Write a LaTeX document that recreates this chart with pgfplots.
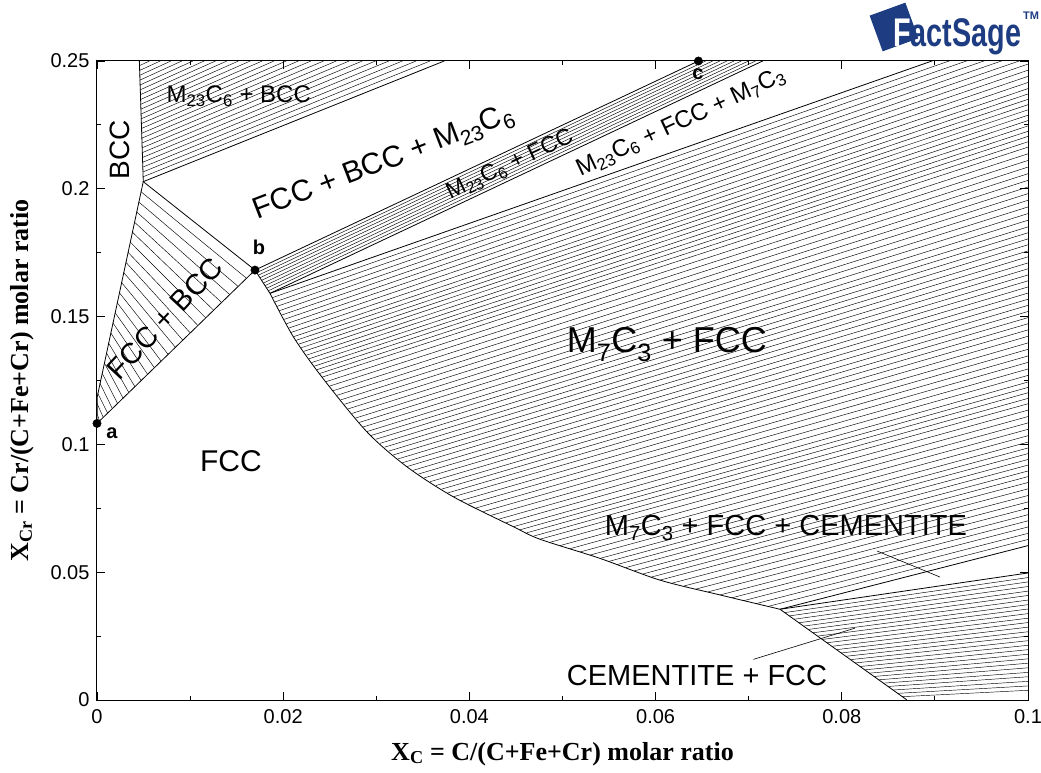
\documentclass[border=0pt]{standalone}
\usepackage{fontspec}
\setmainfont{Liberation Sans}
\newfontfamily\serifbf{Liberation Serif}
\usepackage{graphicx}
\usepackage{pgfplots}
\pgfplotsset{compat=1.18}
\usepackage{pgfplotstable}
\definecolor{fsblue}{RGB}{30,60,130}
\newcommand{\fs}[1]{\fontsize{#1}{#1}\selectfont}

% FCC + BCC tie lines
\pgfplotstableread{
x1 y1 x2 y2
0.00000 0.1121 0.00027 0.1092
0.00000 0.1161 0.00067 0.1106
0.00008 0.1200 0.00114 0.1122
0.00031 0.1240 0.00165 0.1140
0.00054 0.1279 0.00221 0.1160
0.00078 0.1319 0.00280 0.1181
0.00101 0.1358 0.00342 0.1203
0.00123 0.1397 0.00407 0.1226
0.00147 0.1437 0.00474 0.1250
0.00170 0.1476 0.00544 0.1274
0.00193 0.1516 0.00616 0.1300
0.00216 0.1555 0.00689 0.1326
0.00239 0.1594 0.00765 0.1352
0.00262 0.1634 0.00842 0.1380
0.00285 0.1673 0.00921 0.1408
0.00309 0.1713 0.01002 0.1436
0.00332 0.1752 0.01084 0.1465
0.00355 0.1792 0.01168 0.1495
0.00378 0.1831 0.01253 0.1525
0.00401 0.1870 0.01339 0.1555
0.00424 0.1910 0.01426 0.1586
0.00447 0.1949 0.01516 0.1618
0.00471 0.1989 0.01606 0.1650
}\tieA

% M23C6 + BCC tie lines
\pgfplotstableread{
x1 y1 x2 y2
0.00495 0.20469 0.03578 0.25
0.00493 0.20658 0.03428 0.25
0.00491 0.20846 0.03281 0.25
0.00489 0.21035 0.03135 0.25
0.00488 0.21224 0.02992 0.25
0.00486 0.21413 0.02850 0.25
0.00484 0.21602 0.02709 0.25
0.00482 0.21790 0.02571 0.25
0.00480 0.21979 0.02434 0.25
0.00478 0.22168 0.02298 0.25
0.00476 0.22357 0.02164 0.25
0.00474 0.22546 0.02032 0.25
0.00472 0.22734 0.01902 0.25
0.00471 0.22923 0.01774 0.25
0.00469 0.23112 0.01646 0.25
0.00467 0.23301 0.01520 0.25
0.00465 0.23490 0.01395 0.25
0.00463 0.23678 0.01273 0.25
0.00461 0.23867 0.01151 0.25
0.00459 0.24056 0.01030 0.25
0.00457 0.24245 0.00911 0.25
0.00455 0.24434 0.00794 0.25
0.00454 0.24622 0.00679 0.25
0.00452 0.24811 0.00564 0.25
}\tieB

% M23C6 + FCC tie lines
\pgfplotstableread{
x1 y1 x2 y2
0.01715 0.1672 0.06537 0.25
0.01733 0.1662 0.06613 0.25
0.01751 0.1652 0.06690 0.25
0.01769 0.1642 0.06767 0.25
0.01786 0.1631 0.06843 0.25
0.01804 0.1621 0.06920 0.25
0.01822 0.1611 0.06997 0.25
0.01840 0.1601 0.07073 0.25
}\tieC

% M7C3 + FCC tie lines
\pgfplotstableread{
x1 y1 x2 y2
0.01883 0.1574 0.1 0.2608
0.01908 0.1557 0.1 0.2584
0.01933 0.1540 0.1 0.2560
0.01958 0.1523 0.1 0.2536
0.01984 0.1506 0.1 0.2512
0.02009 0.1489 0.1 0.2488
0.02034 0.1472 0.1 0.2464
0.02059 0.1455 0.1 0.2440
0.02084 0.1438 0.1 0.2416
0.02109 0.1421 0.1 0.2392
0.02137 0.1407 0.1 0.2371
0.02165 0.1392 0.1 0.2350
0.02193 0.1378 0.1 0.2329
0.02221 0.1364 0.1 0.2309
0.02249 0.1349 0.1 0.2288
0.02277 0.1335 0.1 0.2267
0.02305 0.1320 0.1 0.2246
0.02333 0.1306 0.1 0.2225
0.02361 0.1292 0.1 0.2205
0.02389 0.1277 0.1 0.2184
0.02417 0.1263 0.1 0.2163
0.02457 0.1245 0.1 0.2137
0.02497 0.1228 0.1 0.2111
0.02537 0.1210 0.1 0.2085
0.02577 0.1192 0.1 0.2059
0.02617 0.1174 0.1 0.2033
0.02657 0.1157 0.1 0.2007
0.02697 0.1139 0.1 0.1981
0.02737 0.1121 0.1 0.1955
0.02777 0.1103 0.1 0.1929
0.02817 0.1086 0.1 0.1903
0.02857 0.1068 0.1 0.1877
0.02897 0.1050 0.1 0.1851
0.02945 0.1035 0.1 0.1828
0.02993 0.1020 0.1 0.1804
0.03040 0.1004 0.1 0.1781
0.03088 0.0989 0.1 0.1757
0.03136 0.0974 0.1 0.1734
0.03184 0.0959 0.1 0.1710
0.03232 0.0943 0.1 0.1687
0.03279 0.0928 0.1 0.1663
0.03327 0.0913 0.1 0.1640
0.03390 0.0898 0.1 0.1616
0.03452 0.0884 0.1 0.1592
0.03515 0.0869 0.1 0.1568
0.03577 0.0854 0.1 0.1544
0.03640 0.0839 0.1 0.1520
0.03702 0.0825 0.1 0.1496
0.03765 0.0810 0.1 0.1472
0.03827 0.0795 0.1 0.1448
0.03908 0.0780 0.1 0.1423
0.03988 0.0766 0.1 0.1397
0.04069 0.0751 0.1 0.1372
0.04150 0.0737 0.1 0.1346
0.04230 0.0722 0.1 0.1321
0.04311 0.0707 0.1 0.1295
0.04391 0.0693 0.1 0.1270
0.04472 0.0678 0.1 0.1244
0.04544 0.0666 0.1 0.1223
0.04615 0.0654 0.1 0.1202
0.04687 0.0641 0.1 0.1180
0.04758 0.0629 0.1 0.1159
0.04866 0.0617 0.1 0.1134
0.04973 0.0604 0.1 0.1109
0.05081 0.0592 0.1 0.1084
0.05188 0.0579 0.1 0.1059
0.05296 0.0567 0.1 0.1034
0.05403 0.0554 0.1 0.1009
0.05495 0.0542 0.1 0.0986
0.05587 0.0530 0.1 0.0964
0.05679 0.0518 0.1 0.0941
0.05771 0.0505 0.1 0.0919
0.05863 0.0493 0.1 0.0896
0.05955 0.0481 0.1 0.0874
0.06047 0.0469 0.1 0.0851
0.06176 0.0457 0.1 0.0826
0.06305 0.0446 0.1 0.0800
0.06434 0.0434 0.1 0.0775
0.06563 0.0423 0.1 0.0750
0.06692 0.0411 0.1 0.0725
0.06821 0.0400 0.1 0.0701
0.06950 0.0389 0.1 0.0677
0.07078 0.0377 0.1 0.0652
0.07207 0.0366 0.1 0.0628
}\tieD

% CEMENTITE + FCC tie lines
\pgfplotstableread{
x1 y1 x2 y2
0.07387 0.0342 0.1 0.0479
0.07437 0.0329 0.1 0.0462
0.07488 0.0316 0.1 0.0444
0.07538 0.0302 0.1 0.0426
0.07589 0.0289 0.1 0.0409
0.07639 0.0276 0.1 0.0391
0.07690 0.0263 0.1 0.0373
0.07740 0.0250 0.1 0.0356
0.07791 0.0237 0.1 0.0338
0.07841 0.0224 0.1 0.0320
0.07892 0.0210 0.1 0.0303
0.07942 0.0197 0.1 0.0285
0.07993 0.0184 0.1 0.0267
0.08043 0.0171 0.1 0.0250
0.08094 0.0158 0.1 0.0232
0.08144 0.0145 0.1 0.0214
0.08195 0.0131 0.1 0.0197
0.08245 0.0118 0.1 0.0179
0.08296 0.0105 0.1 0.0161
0.08346 0.0092 0.1 0.0144
0.08397 0.0079 0.1 0.0126
0.08447 0.0066 0.1 0.0108
0.08498 0.0053 0.1 0.0091
0.08548 0.0039 0.1 0.0073
0.08599 0.0026 0.1 0.0055
0.08649 0.0013 0.1 0.0038
}\tieE

\begin{document}
\begin{tikzpicture}
\useasboundingbox (-97pt,-72pt) rectangle (944pt,700pt);
\begin{axis}[
  scale only axis, width=931pt, height=639pt,
  xmin=0, xmax=0.1, ymin=0, ymax=0.25,
  xtick={0,0.02,0.04,0.06,0.08,0.1},
  xticklabels={0,0.02,0.04,0.06,0.08,0.1},
  ytick={0,0.05,0.1,0.15,0.2,0.25},
  yticklabels={0,0.05,0.1,0.15,0.2,0.25},
  minor xtick={0.01,0.03,0.05,0.07,0.09},
  minor ytick={0.025,0.075,0.125,0.175,0.225},
  tick align=inside, xtick pos=both, ytick pos=both,
  xticklabel pos=lower, yticklabel pos=left,
  major tick length=8pt, minor tick length=4pt,
  every tick/.style={black, line width=0.9pt},
  axis line style={line width=1pt},
  ticklabel style={font=\fs{20}},
  xticklabel style={yshift=-6pt},
  yticklabel style={xshift=-4pt},
  clip mode=individual,
  xlabel={X\textsubscript{C} = C/(C+Fe+Cr) molar ratio},
  ylabel={X\textsubscript{Cr} = Cr/(C+Fe+Cr) molar ratio},
  every axis x label/.style={at={(axis description cs:0.5,-0.094)}, anchor=base, font=\serifbf\bfseries\fs{26}},
  every axis y label/.style={at={(axis description cs:-0.0806,0.5)}, anchor=center, rotate=90, font=\serifbf\bfseries\fs{26}},
  hatch/.style={black, line width=0.45pt, quiver={u=\thisrow{x2}-\thisrow{x1}, v=\thisrow{y2}-\thisrow{y1}}},
  bnd/.style={black, line width=0.8pt},
]
% tie lines
\addplot[hatch] table[x=x1,y=y1] {\tieA};
\addplot[hatch] table[x=x1,y=y1] {\tieB};
\addplot[hatch] table[x=x1,y=y1] {\tieC};
\addplot[hatch] table[x=x1,y=y1] {\tieD};
\addplot[hatch] table[x=x1,y=y1] {\tieE};
% phase boundaries
\addplot[bnd] coordinates {(0,0.1082) (0.00003,0.1187) (0.00497,0.2028) (0.00455,0.25)};
\addplot[bnd] coordinates {(0,0.1082) (0.01697,0.1682) (0.00497,0.2028) (0.0373,0.25)};
\addplot[bnd] coordinates {(0.01697,0.1682) (0.0646,0.25)};
\addplot[bnd] coordinates {(0.01858,0.1591) (0.0715,0.25)};
\addplot[bnd] coordinates {(0.01858,0.1591) (0.1,0.2632)};
\addplot[bnd] coordinates {(0.01697,0.1682) (0.01858,0.1591)};
\addplot[bnd, smooth, tension=0.5] coordinates {(0.01858,0.1591) (0.02109,0.1421) (0.02417,0.1263) (0.02897,0.1050) (0.03327,0.0913) (0.03827,0.0795) (0.04472,0.0678) (0.04758,0.0629) (0.05403,0.0554) (0.06047,0.0469) (0.06692,0.0411) (0.07336,0.0355)};
\addplot[bnd] coordinates {(0.07336,0.0355) (0.0870,0)};
\addplot[bnd] coordinates {(0.07336,0.0355) (0.1,0.0604)};
\addplot[bnd] coordinates {(0.07336,0.0355) (0.1,0.0497)};
% leader lines
\addplot[black, line width=0.6pt] coordinates {(0.08378,0.0583) (0.09055,0.0481)};
\addplot[black, line width=0.6pt] coordinates {(0.0705,0.0159) (0.0814,0.0281)};
% points a, b, c
\addplot[only marks, mark=*, mark size=4.2pt, black] coordinates {(0,0.1082) (0.01697,0.1682) (0.0646,0.25)};
% labels
\node[font=\fs{28}, rotate=90] at (axis cs:0.00247,0.2152) {BCC};
\node[font=\fs{24}] at (axis cs:0.01522,0.2363) {M\textsubscript{23}C\textsubscript{6} + BCC};
\node[font=\fs{30}, rotate=21] at (axis cs:0.03083,0.2101) {FCC + BCC + M\textsubscript{23}C\textsubscript{6}};
\node[font=\fs{23}, rotate=25] at (axis cs:0.04436,0.2093) {M\textsubscript{23}C\textsubscript{6} + FCC};
\node[font=\fs{24}, rotate=25] at (axis cs:0.06273,0.2259) {M\textsubscript{23}C\textsubscript{6} + FCC + M\textsubscript{7}C\textsubscript{3}};
\node[font=\fs{29}, rotate=47] at (axis cs:0.0073,0.1494) {FCC + BCC};
\node[font=\fs{30}] at (axis cs:0.01439,0.0935) {FCC};
\node[font=\fs{36}] at (axis cs:0.06122,0.1389) {M\textsubscript{7}C\textsubscript{3} + FCC};
\node[font=\fs{29}] at (axis cs:0.0740,0.0673) {M\textsubscript{7}C\textsubscript{3} + FCC + CEMENTITE};
\node[font=\fs{29}] at (axis cs:0.06445,0.0094) {CEMENTITE + FCC};
\node[font=\bfseries\fs{20}] at (axis cs:0.0016,0.1045) {a};
\node[font=\bfseries\fs{20}] at (axis cs:0.0174,0.1772) {b};
\node[font=\bfseries\fs{20}] at (axis cs:0.06455,0.2449) {c};
\end{axis}
% FactSage logo
\fill[fsblue, rotate around={20:(797pt,673pt)}] (778pt,654pt) rectangle (816pt,692pt);
\node[anchor=base west, inner sep=0pt, font=\bfseries\fs{40}, text=fsblue] at (796pt,653pt) {\scalebox{0.72}[1]{\textcolor{white}{F}actSage}};
\node[anchor=base west, inner sep=0pt, font=\bfseries\fs{11}, text=fsblue] at (926pt,680pt) {TM};
\end{tikzpicture}
\end{document}
